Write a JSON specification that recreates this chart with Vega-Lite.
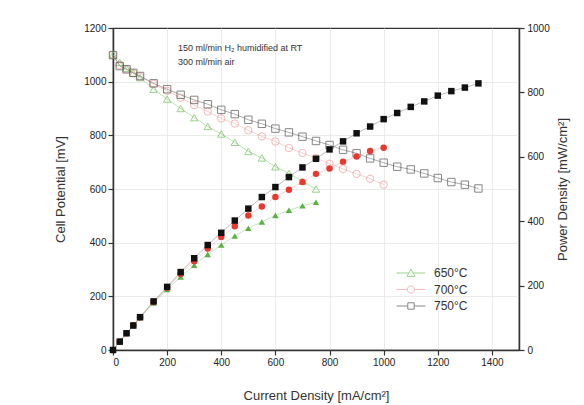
{
  "$schema": "https://vega.github.io/schema/vega-lite/v6.json",
  "width": 406,
  "height": 322,
  "autosize": {"type": "none"},
  "padding": {"left": 113, "top": 28, "right": 65, "bottom": 55},
  "background": "white",
  "config": {
    "font": "Liberation Sans",
    "view": {"stroke": "#333", "strokeWidth": 1.2},
    "axis": {
      "labelFont": "Liberation Sans",
      "titleFont": "Liberation Sans",
      "labelFontSize": 10,
      "labelColor": "#222",
      "titleFontSize": 13,
      "titleFontWeight": "normal",
      "titleColor": "#333",
      "domainColor": "#333",
      "domainWidth": 1.5,
      "tickColor": "#333",
      "tickWidth": 1.2,
      "gridColor": "#e6e6e6",
      "gridWidth": 0.8
    },
    "legend": {
      "labelFont": "Liberation Sans"
    }
  },
  "datasets": {
    "cells": [
      {"T": "650°C", "I": 0, "V": 1100, "P": 0},
      {"T": "650°C", "I": 25, "V": 1072, "P": 27},
      {"T": "650°C", "I": 50, "V": 1050, "P": 52},
      {"T": "650°C", "I": 75, "V": 1032, "P": 77},
      {"T": "650°C", "I": 100, "V": 1015, "P": 101},
      {"T": "650°C", "I": 150, "V": 972, "P": 146},
      {"T": "650°C", "I": 200, "V": 935, "P": 188},
      {"T": "650°C", "I": 250, "V": 900, "P": 227},
      {"T": "650°C", "I": 300, "V": 866, "P": 263},
      {"T": "650°C", "I": 350, "V": 833, "P": 297},
      {"T": "650°C", "I": 400, "V": 805, "P": 326},
      {"T": "650°C", "I": 450, "V": 774, "P": 354},
      {"T": "650°C", "I": 500, "V": 740, "P": 378},
      {"T": "650°C", "I": 550, "V": 716, "P": 398},
      {"T": "650°C", "I": 600, "V": 683, "P": 418},
      {"T": "650°C", "I": 650, "V": 658, "P": 434},
      {"T": "650°C", "I": 700, "V": 629, "P": 448},
      {"T": "650°C", "I": 750, "V": 600, "P": 459},
      {"T": "700°C", "I": 0, "V": 1100, "P": 0},
      {"T": "700°C", "I": 25, "V": 1062, "P": 26},
      {"T": "700°C", "I": 50, "V": 1046, "P": 52},
      {"T": "700°C", "I": 75, "V": 1031, "P": 77},
      {"T": "700°C", "I": 100, "V": 1018, "P": 101},
      {"T": "700°C", "I": 150, "V": 992, "P": 149},
      {"T": "700°C", "I": 200, "V": 966, "P": 193},
      {"T": "700°C", "I": 250, "V": 940, "P": 236},
      {"T": "700°C", "I": 300, "V": 913, "P": 276},
      {"T": "700°C", "I": 350, "V": 889, "P": 315},
      {"T": "700°C", "I": 400, "V": 863, "P": 351},
      {"T": "700°C", "I": 450, "V": 844, "P": 384},
      {"T": "700°C", "I": 500, "V": 819, "P": 418},
      {"T": "700°C", "I": 550, "V": 796, "P": 446},
      {"T": "700°C", "I": 600, "V": 777, "P": 475},
      {"T": "700°C", "I": 650, "V": 753, "P": 498},
      {"T": "700°C", "I": 700, "V": 734, "P": 522},
      {"T": "700°C", "I": 750, "V": 715, "P": 547},
      {"T": "700°C", "I": 800, "V": 694, "P": 564},
      {"T": "700°C", "I": 850, "V": 675, "P": 585},
      {"T": "700°C", "I": 900, "V": 656, "P": 601},
      {"T": "700°C", "I": 950, "V": 638, "P": 618},
      {"T": "700°C", "I": 1000, "V": 616, "P": 628},
      {"T": "750°C", "I": 0, "V": 1099, "P": 0},
      {"T": "750°C", "I": 25, "V": 1058, "P": 26},
      {"T": "750°C", "I": 50, "V": 1046, "P": 52},
      {"T": "750°C", "I": 75, "V": 1033, "P": 76},
      {"T": "750°C", "I": 100, "V": 1021, "P": 102},
      {"T": "750°C", "I": 150, "V": 994, "P": 151},
      {"T": "750°C", "I": 200, "V": 972, "P": 196},
      {"T": "750°C", "I": 250, "V": 951, "P": 242},
      {"T": "750°C", "I": 300, "V": 932, "P": 285},
      {"T": "750°C", "I": 350, "V": 916, "P": 326},
      {"T": "750°C", "I": 400, "V": 895, "P": 364},
      {"T": "750°C", "I": 450, "V": 879, "P": 402},
      {"T": "750°C", "I": 500, "V": 858, "P": 439},
      {"T": "750°C", "I": 550, "V": 843, "P": 475},
      {"T": "750°C", "I": 600, "V": 825, "P": 506},
      {"T": "750°C", "I": 650, "V": 811, "P": 537},
      {"T": "750°C", "I": 700, "V": 795, "P": 567},
      {"T": "750°C", "I": 750, "V": 779, "P": 594},
      {"T": "750°C", "I": 800, "V": 764, "P": 623},
      {"T": "750°C", "I": 850, "V": 746, "P": 648},
      {"T": "750°C", "I": 900, "V": 733, "P": 673},
      {"T": "750°C", "I": 950, "V": 714, "P": 694},
      {"T": "750°C", "I": 1000, "V": 698, "P": 717},
      {"T": "750°C", "I": 1050, "V": 683, "P": 736},
      {"T": "750°C", "I": 1100, "V": 673, "P": 755},
      {"T": "750°C", "I": 1150, "V": 658, "P": 772},
      {"T": "750°C", "I": 1200, "V": 641, "P": 790},
      {"T": "750°C", "I": 1250, "V": 626, "P": 804},
      {"T": "750°C", "I": 1300, "V": 616, "P": 815},
      {"T": "750°C", "I": 1350, "V": 602, "P": 828}
    ],
    "notes": [
      {"I": 240, "V": 1127, "text": "150 ml/min H₂ humidified at RT"},
      {"I": 240, "V": 1075, "text": "300 ml/min air"}
    ]
  },
  "layer": [
    {
      "layer": [
        {
          "data": {"name": "cells"},
          "mark": {"type": "line", "strokeWidth": 0.8, "opacity": 0.6},
          "encoding": {
            "x": {"field": "I", "type": "quantitative"},
            "y": {"field": "V", "type": "quantitative"},
            "detail": {"field": "T"},
            "stroke": {"field": "T", "type": "nominal", "legend": null}
          }
        },
        {
          "data": {"name": "cells"},
          "mark": {"type": "point", "filled": false, "size": 55, "strokeWidth": 1},
          "encoding": {
            "x": {
              "field": "I", "type": "quantitative",
              "scale": {"domain": [0, 1500], "nice": false},
              "axis": {
                "title": "Current Density [mA/cm²]",
                "values": [0, 100, 200, 300, 400, 500, 600, 700, 800, 900, 1000, 1100, 1200, 1300, 1400, 1500],
                "labelExpr": "datum.value % 200 === 0 && datum.value < 1500 ? datum.label : ''",
                "tickSize": {"condition": {"test": "datum.value % 200 === 0", "value": 5}, "value": 3},
                "gridOpacity": {"condition": {"test": "datum.value % 200 === 0 && datum.value > 0 && datum.value < 1500", "value": 1}, "value": 0},
                "labelPadding": 2,
                "titlePadding": 22,
                "format": "d"
              }
            },
            "y": {
              "field": "V", "type": "quantitative",
              "scale": {"domain": [0, 1200], "nice": false},
              "axis": {
                "title": "Cell Potential [mV]",
                "values": [0, 100, 200, 300, 400, 500, 600, 700, 800, 900, 1000, 1100, 1200],
                "labelExpr": "datum.value % 200 === 0 ? datum.label : ''",
                "tickSize": {"condition": {"test": "datum.value % 200 === 0", "value": 5}, "value": 3},
                "gridOpacity": {"condition": {"test": "datum.value % 200 === 0 && datum.value > 0 && datum.value < 1200", "value": 1}, "value": 0},
                "labelPadding": 2,
                "titlePadding": 16,
                "format": "d"
              }
            },
            "shape": {
              "field": "T", "type": "nominal",
              "scale": {"domain": ["650°C", "700°C", "750°C"], "range": ["triangle-up", "circle", "square"]},
              "legend": null
            },
            "stroke": {
              "field": "T", "type": "nominal",
              "scale": {"domain": ["650°C", "700°C", "750°C"], "range": ["#6cc25a", "#f29a9a", "#555555"]},
              "legend": null
            }
          }
        },
        {
          "data": {"name": "notes"},
          "mark": {"type": "text", "align": "left", "baseline": "middle", "fontSize": 9, "color": "#333", "font": "Liberation Sans"},
          "encoding": {
            "x": {"field": "I", "type": "quantitative"},
            "y": {"field": "V", "type": "quantitative"},
            "text": {"field": "text"}
          }
        }
      ]
    },
    {
      "data": {"name": "cells"},
      "layer": [
        {
          "mark": {"type": "line", "strokeWidth": 0.8, "opacity": 0.5},
          "encoding": {
            "x": {"field": "I", "type": "quantitative"},
            "y": {"field": "P", "type": "quantitative"},
            "detail": {"field": "T"},
            "stroke": {
              "field": "T", "type": "nominal",
              "scale": {"domain": ["650°C", "700°C", "750°C"], "range": ["#6cc25a", "#f29a9a", "#555555"]},
              "legend": null
            }
          }
        },
        {
          "mark": {"type": "point", "filled": true, "size": 42, "opacity": 1, "strokeWidth": 0},
          "encoding": {
            "x": {"field": "I", "type": "quantitative"},
            "y": {
              "field": "P", "type": "quantitative",
              "scale": {"domain": [0, 1000], "nice": false},
              "axis": {
                "orient": "right",
                "title": "Power Density [mW/cm²]",
                "titleAngle": 270,
                "values": [0, 100, 200, 300, 400, 500, 600, 700, 800, 900, 1000],
                "labelExpr": "datum.value % 200 === 0 ? datum.label : ''",
                "tickSize": {"condition": {"test": "datum.value % 200 === 0", "value": 5}, "value": 3},
                "grid": false,
                "labelPadding": 3,
                "titlePadding": 20,
                "format": "d"
              }
            },
            "shape": {
              "field": "T", "type": "nominal",
              "scale": {"domain": ["650°C", "700°C", "750°C"], "range": ["triangle-up", "circle", "square"]},
              "legend": null
            },
            "fill": {
              "field": "T", "type": "nominal",
              "scale": {"domain": ["650°C", "700°C", "750°C"], "range": ["#5bb243", "#e8392f", "#111111"]},
              "legend": null
            }
          }
        }
      ]
    },
    {
      "data": {"name": "cells"},
      "transform": [{"filter": "datum.I < 0"}],
      "mark": {"type": "point", "filled": false, "strokeWidth": 1},
      "encoding": {
        "x": {"field": "I", "type": "quantitative"},
        "y": {"field": "V", "type": "quantitative", "scale": {"domain": [0, 1200]}, "axis": null},
        "shape": {
          "field": "T", "type": "nominal",
          "scale": {
            "domain": ["650°C", "700°C", "750°C"],
            "range": [
              "M-3.6,0H-0.55M0.55,0H3.6M0,-0.95L1,0.85H-1Z",
              "M-3.6,0H-0.9M0.9,0H3.6M0.9,0A0.9,0.9 0 1,1 -0.9,0A0.9,0.9 0 1,1 0.9,0Z",
              "M-3.6,0H-0.8M0.8,0H3.6M-0.8,-0.8H0.8V0.8H-0.8Z"
            ]
          },
          "legend": {
            "title": null,
            "orient": "none",
            "legendX": 292,
            "legendY": 239,
            "padding": 0,
            "labelFontSize": 12,
            "labelColor": "#333",
            "symbolSize": 64,
            "symbolStrokeWidth": 1,
            "rowPadding": 4.5,
            "labelOffset": 17
          }
        },
        "stroke": {
          "field": "T", "type": "nominal",
          "scale": {"domain": ["650°C", "700°C", "750°C"], "range": ["#6cc25a", "#f29a9a", "#555555"]},
          "legend": {
            "title": null,
            "orient": "none",
            "legendX": 292,
            "legendY": 239,
            "padding": 0,
            "labelFontSize": 12,
            "labelColor": "#333",
            "symbolSize": 64,
            "symbolStrokeWidth": 1,
            "rowPadding": 4.5,
            "labelOffset": 17
          }
        }
      }
    }
  ],
  "resolve": {"scale": {"y": "independent", "shape": "independent", "stroke": "independent"}}
}
